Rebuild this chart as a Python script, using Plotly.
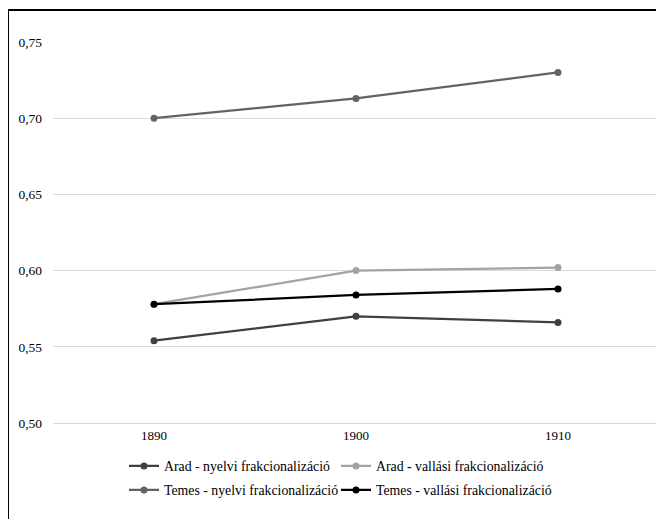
import plotly.graph_objects as go

years = ["1890", "1900", "1910"]
arad_nyelvi = [0.554, 0.570, 0.566]
arad_vallasi = [0.578, 0.600, 0.602]
temes_nyelvi = [0.700, 0.713, 0.730]
temes_vallasi = [0.578, 0.584, 0.588]
y_ticks = [0.50, 0.55, 0.60, 0.65, 0.70, 0.75]
y_tick_labels = ["0,50", "0,55", "0,60", "0,65", "0,70", "0,75"]

series = [
    ("Arad - nyelvi frakcionalizáció", arad_nyelvi, "#404040", "legend"),
    ("Arad - vallási frakcionalizáció", arad_vallasi, "#a3a3a3", "legend2"),
    ("Temes - nyelvi frakcionalizáció", temes_nyelvi, "#636363", "legend3"),
    ("Temes - vallási frakcionalizáció", temes_vallasi, "#000000", "legend4"),
]

fig = go.Figure()
for name, vals, col, leg in series:
    fig.add_trace(go.Scatter(
        x=years, y=vals, name=name, mode="lines+markers",
        line=dict(color=col, width=2.25),
        marker=dict(color=col, size=7),
        legend=leg,
    ))

# page has an 8px body margin; figure coordinates are page - 8
W, H = 656, 511
L, R, T, B = 45, 5, 34, 96
pw = W - L - R
ph = H - T - B

def px_y(y):
    return 1 - (y - T) / ph

def px_x(x):
    return (x - L) / pw

FONT = "Times New Roman, Liberation Serif, DejaVu Serif, serif"
leg_common = dict(
    orientation="h", xanchor="left", yanchor="middle",
    font=dict(family=FONT, size=13.8, color="#000000"),
    itemwidth=30, bgcolor="rgba(0,0,0,0)",
)

fig.update_layout(
    width=W, height=H,
    margin=dict(l=L, r=R, t=T, b=B),
    paper_bgcolor="white", plot_bgcolor="white",
    font=dict(family=FONT, size=13, color="#000000"),
    showlegend=True,
    legend=dict(x=px_x(116), y=px_y(458), **leg_common),
    legend2=dict(x=px_x(328), y=px_y(458), **leg_common),
    legend3=dict(x=px_x(116), y=px_y(482), **leg_common),
    legend4=dict(x=px_x(328), y=px_y(482), **leg_common),
    xaxis=dict(
        type="category", showgrid=False, zeroline=False,
        showline=True, linecolor="#d9d9d9", linewidth=1,
        ticks="", tickfont=dict(family=FONT, size=13), range=[-0.5, 2.5],
    ),
    yaxis=dict(
        range=[0.50, 0.75], tickvals=y_ticks, ticktext=y_tick_labels,
        showgrid=True, gridcolor="#d9d9d9", gridwidth=1, zeroline=False,
        showline=False, ticks="", ticklabelstandoff=10,
        tickfont=dict(family=FONT, size=13.5),
    ),
    shapes=[dict(
        type="rect", xref="paper", yref="paper",
        x0=px_x(0), x1=px_x(W + 5),
        y0=px_y(H + 5), y1=px_y(2),
        line=dict(color="#000000", width=2), fillcolor="rgba(0,0,0,0)", layer="below",
    )],
)

fig.write_html("out.html")
